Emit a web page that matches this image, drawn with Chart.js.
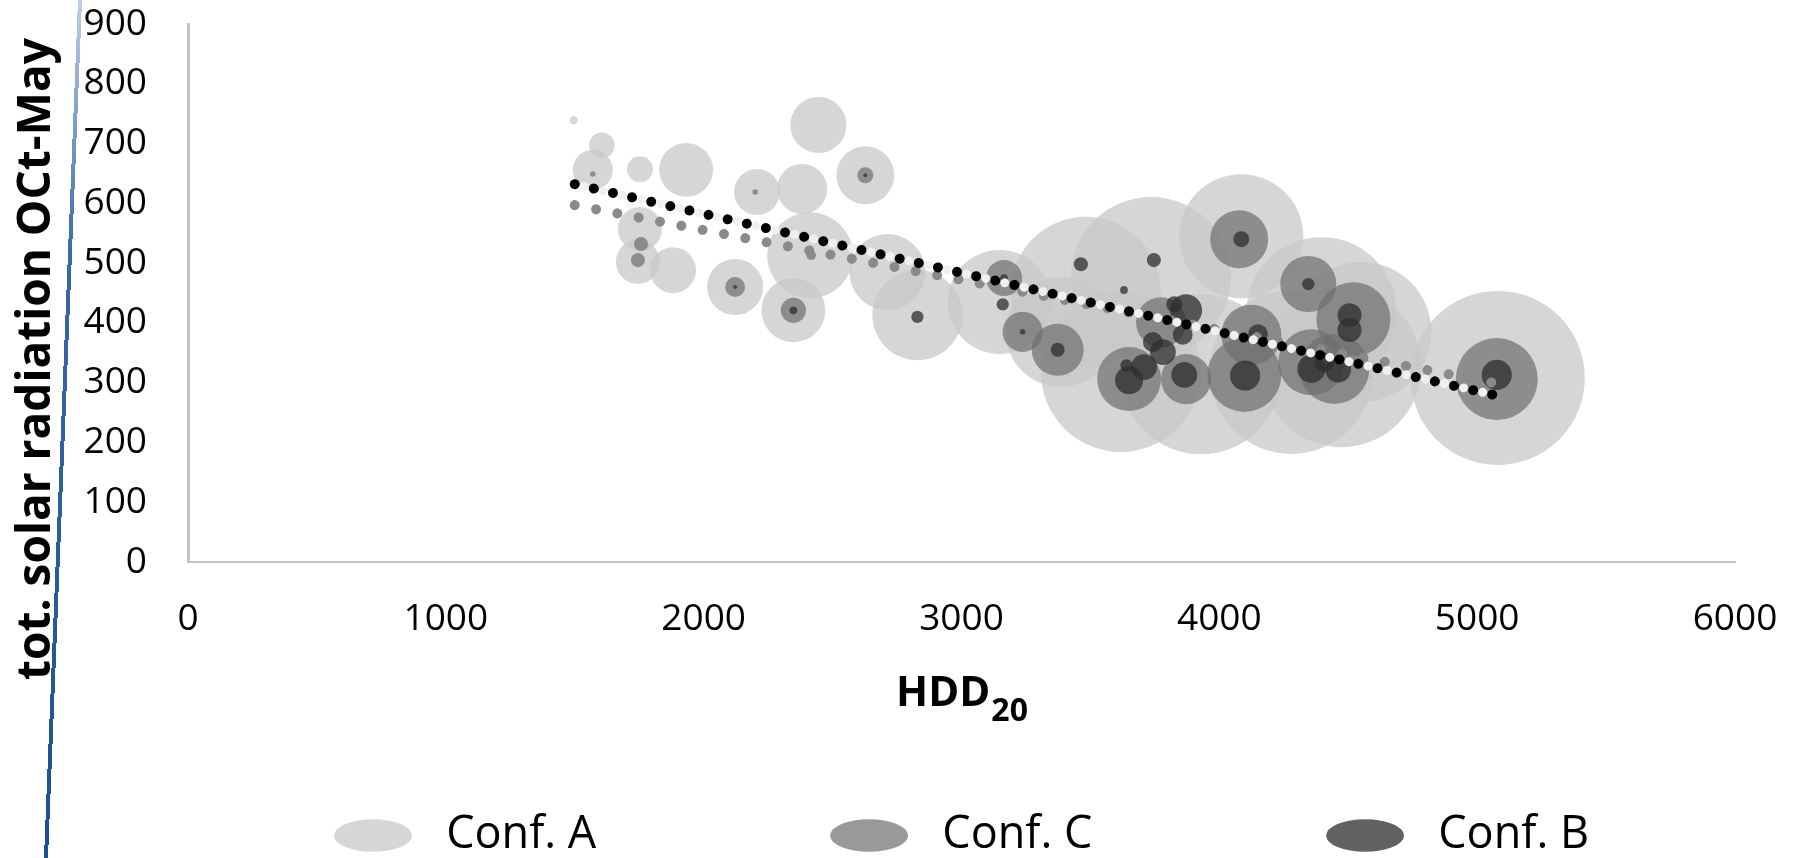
<!DOCTYPE html>
<html>
<head>
<meta charset="utf-8">
<script src="https://cdn.jsdelivr.net/npm/chart.js@4.4.1/dist/chart.umd.min.js"></script>
<style>
  html, body { margin: 0; padding: 0; background: #fff; }
  #wrap { position: relative; width: 1801px; height: 858px; overflow: hidden; }
  /* blue crop edge running down the left of the figure */
  #edge { position: absolute; left: 61px; top: -11px; width: 4px; height: 880px;
          transform: rotate(2.27deg);
          background: linear-gradient(#c3d3e8, #3a6aa6 30%, #1c4f8f); }
</style>
</head>
<body>
<div id="wrap">
  <canvas id="chart" width="1801" height="858"></canvas>
  <div id="edge"></div>
</div>
<script>
'use strict';

// bubble series: HDD20, radiation, bubble size (largest bubble = 100)
const confA_hdd  = [1496, 1605, 1570, 1753, 1932, 1753, 1745, 1881, 2122, 2207, 2382, 2445, 2627, 2348, 2413, 2713, 2829,
                    3148, 3482, 3735, 4085, 4396, 4551, 3618, 3929, 4279, 4473, 5080, 3385];
const confA_rad  = [739, 697, 656, 657, 656, 557, 502, 488, 460, 619, 624, 731, 647, 421, 513, 485, 413,
                    435, 452, 477, 545, 418, 385, 318, 314, 318, 326, 308, 385];
const confA_size = [0.2, 2.2, 5.3, 2.2, 9.6, 6.4, 6.4, 7.0, 10.4, 7.0, 8.3, 10.4, 11.1, 13.5, 24.4, 19.1, 26.8,
                    35.7, 74.3, 84.6, 50.8, 74.3, 64.7, 84.6, 84.6, 88.8, 84.6, 100, 40.0];

const confC_hdd  = [1570, 1757, 1745, 2122, 2200, 2348, 2417, 2627, 3165, 3237, 3373, 3650, 3774, 3871, 4077, 4345,
                    4520, 4124, 4097, 4357, 4446, 5076];
const confC_rad  = [649, 532, 505, 460, 619, 421, 513, 647, 475, 385, 355, 306, 401, 306, 540, 465,
                    406, 380, 313, 334, 323, 306];
const confC_size = [0.1, 0.65, 0.65, 1.3, 0.1, 2.1, 0.3, 0.85, 4.3, 5.3, 8.9, 13.5, 8.3, 8.3, 11.1, 10.4,
                    18.1, 11.9, 18.1, 14.4, 16.2, 22.2];

const confB_hdd  = [2122, 2348, 2627, 2829, 3165, 3160, 3237, 3373, 3463, 3746, 3630, 3650, 3708, 3640, 3871, 3825,
                    3781, 3742, 3858, 3864, 4085, 4345, 4505, 4505, 4150, 4100, 4357, 4461, 4408, 5076];
const confB_rad  = [460, 421, 647, 410, 475, 431, 385, 355, 498, 505, 455, 304, 326, 329, 421, 431,
                    351, 368, 380, 313, 540, 465, 413, 388, 381, 312, 323, 322, 334, 313];
const confB_size = [0.05, 0.2, 0.05, 0.5, 0.2, 0.5, 0.1, 0.65, 0.65, 0.65, 0.2, 2.6, 2.2, 0.5, 3.4, 0.85,
                    2.2, 1.3, 1.3, 2.2, 0.85, 0.5, 1.9, 1.9, 1.3, 3.0, 2.6, 2.2, 1.3, 3.0];

// linear trend lines (end points)
const trendB_hdd = [1500, 5060], trendB_rad = [632, 280];
const trendC_hdd = [1500, 5060], trendC_rad = [597, 300];
const trendA_hdd = [1500, 5060], trendA_rad = [632, 280];

const seriesNames = ['Conf. A', 'Conf. C', 'Conf. B'];
const xTicks = [0, 1000, 2000, 3000, 4000, 5000, 6000];
const yTicks = [0, 100, 200, 300, 400, 500, 600, 700, 800, 900];
const yTitle = 'tot. solar radiation OCt-May';
const xTitle = 'HDD', xTitleSub = '20';

const MAX_BUBBLE = 87;   // px radius of the size-100 bubble
const FONT = 'Open Sans';

function bubbles(xs, ys, ss) {
  return xs.map((x, i) => ({ x, y: ys[i], r: MAX_BUBBLE * Math.sqrt(ss[i] / 100) }));
}
function pts(xs, ys) { return xs.map((x, i) => ({ x, y: ys[i] })); }

function dotted(data, color, width, gap, offset, order) {
  return {
    type: 'line', data, borderColor: color, borderWidth: width,
    borderDash: [0.01, gap], borderDashOffset: offset, borderCapStyle: 'round',
    pointRadius: 0, fill: false, order,
  };
}

// axis titles drawn by hand (the x title has a subscript)
const axisTitles = {
  id: 'axisTitles',
  afterDraw(chart) {
    const { ctx, chartArea: a } = chart;
    ctx.save();
    ctx.fillStyle = '#000';
    ctx.font = `bold 46px "${FONT}"`;
    ctx.textAlign = 'center';
    ctx.textBaseline = 'middle';
    ctx.translate(a.left - 151, a.bottom - 203);
    ctx.rotate(-Math.PI / 2);
    ctx.fillText(yTitle, 0, 0);
    ctx.restore();

    ctx.save();
    ctx.fillStyle = '#000';
    ctx.textAlign = 'left';
    ctx.textBaseline = 'alphabetic';
    ctx.font = `bold 42px "${FONT}"`;
    const w1 = ctx.measureText(xTitle).width;
    ctx.font = `bold 32px "${FONT}"`;
    const w2 = ctx.measureText(xTitleSub).width;
    const x0 = (a.left + a.right) / 2 - (w1 + w2) / 2;
    ctx.font = `bold 42px "${FONT}"`;
    ctx.fillText(xTitle, x0, a.bottom + 144);
    ctx.font = `bold 32px "${FONT}"`;
    ctx.fillText(xTitleSub, x0 + w1 + 1, a.bottom + 159);
    ctx.restore();
  }
};

const tickFont = { family: FONT, size: 37 };
// invisible tick marks give the label offset without padding the chart area
const hiddenGrid = len => ({ display: true, drawOnChartArea: false, drawTicks: true, tickLength: len, color: 'rgba(0,0,0,0)' });

new Chart(document.getElementById('chart'), {
  type: 'bubble',
  data: {
    datasets: [
      { label: seriesNames[0], data: bubbles(confA_hdd, confA_rad, confA_size),
        backgroundColor: 'rgba(200,200,200,0.75)', borderWidth: 0, order: 3 },
      { label: seriesNames[1], data: bubbles(confC_hdd, confC_rad, confC_size),
        backgroundColor: 'rgba(110,110,110,0.7)', borderWidth: 0, order: 2 },
      { label: seriesNames[2], data: bubbles(confB_hdd, confB_rad, confB_size),
        backgroundColor: 'rgba(45,45,45,0.75)', borderWidth: 0, order: 1 },
      dotted(pts(trendC_hdd, trendC_rad), '#8a8a8a', 10, 21.7, 0, 0),
      dotted(pts(trendA_hdd, trendA_rad), '#f0f0f0', 9, 19.6, 9.8, -1),
      dotted(pts(trendB_hdd, trendB_rad), '#000000', 10, 19.6, 0, -2),
    ],
  },
  options: {
    responsive: false,
    devicePixelRatio: 1,
    animation: false,
    layout: { autoPadding: false, padding: { top: 24, right: 66, left: 0, bottom: -10 } },
    plugins: {
      tooltip: { enabled: false },
      legend: {
        position: 'bottom',
        fullSize: false,
        labels: {
          usePointStyle: true, pointStyle: 'circle', pointStyleWidth: 78, boxHeight: 23,
          padding: 0, color: '#000', font: { family: FONT, size: 45 },
          generateLabels(chart) {
            const items = Chart.defaults.plugins.legend.labels.generateLabels(chart)
              .filter(it => it.datasetIndex < 3)
              .sort((p, q) => p.datasetIndex - q.datasetIndex);
            items.forEach((it, i) => {
              it.text = ' ' + it.text + (i < items.length - 1 ? ' '.repeat(20) : '');
              it.lineWidth = 0;
            });
            return items;
          },
        },
      },
    },
    scales: {
      x: {
        type: 'linear', min: xTicks[0], max: xTicks[xTicks.length - 1],
        afterBuildTicks: s => { s.ticks = xTicks.map(v => ({ value: v })); },
        ticks: { color: '#000', font: tickFont, padding: 0, maxRotation: 0, callback: v => String(v) },
        grid: hiddenGrid(35),
        border: { display: true, color: '#c4c4c4', width: 2 },
        afterFit: s => { s.height = 251; },
      },
      y: {
        type: 'linear', min: yTicks[0], max: yTicks[yTicks.length - 1],
        afterBuildTicks: s => { s.ticks = yTicks.map(v => ({ value: v })); },
        ticks: { color: '#000', font: tickFont, padding: 0, callback: v => String(v) },
        grid: hiddenGrid(41),
        border: { display: true, color: '#c4c4c4', width: 3 },
        afterFit: s => { s.width = 188; },
      },
    },
  },
  plugins: [axisTitles],
});
</script>
</body>
</html>
